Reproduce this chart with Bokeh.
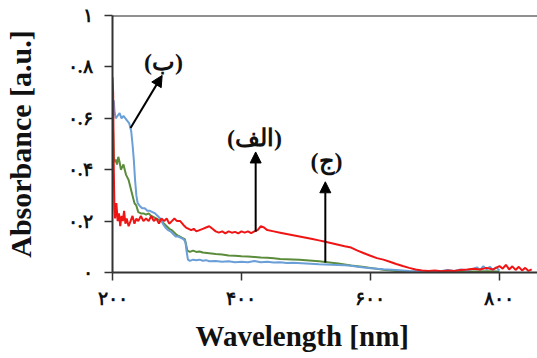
from bokeh.plotting import figure
from bokeh.models import Range1d, FixedTicker, Span, Arrow, NormalHead, Label, Title
from bokeh.embed import file_html
from bokeh.resources import INLINE

# Absorbance spectra of the three samples (wavelength in nm, absorbance in a.u.)
wl_alef = [200, 201, 202, 203, 204, 206, 208, 210, 212, 214, 216, 218, 220, 222, 225,
           228, 231, 234, 237, 240, 244, 248, 252, 256, 260, 264, 268, 272, 276, 280,
           284, 288, 292, 296, 300, 305, 310, 314, 318, 322, 326, 330, 335, 340, 345,
           350, 355, 360, 365, 370, 375, 380, 385, 390, 395, 400, 405, 410, 415, 420,
           425, 430, 435, 440, 450, 460, 470, 480, 490, 500, 510, 520, 530, 540, 550,
           560, 570, 580, 590, 600, 610, 620, 630, 640, 650, 660, 670, 680, 690, 700,
           710, 720, 730, 740, 750, 760, 770, 780, 790, 800, 805, 810, 815, 820, 825,
           830, 835, 840, 845, 850]
abs_alef = [0.76, 0.70, 0.40, 0.25, 0.21, 0.27, 0.20, 0.23, 0.18, 0.22, 0.20, 0.24, 0.19, 0.21, 0.18,
            0.20, 0.22, 0.19, 0.21, 0.20, 0.22, 0.20, 0.21, 0.20, 0.22, 0.20, 0.21, 0.19, 0.21, 0.20,
            0.21, 0.19, 0.20, 0.21, 0.20, 0.20, 0.185, 0.175, 0.17, 0.165, 0.17, 0.16, 0.165, 0.17, 0.175,
            0.18, 0.17, 0.16, 0.155, 0.16, 0.152, 0.16, 0.155, 0.158, 0.152, 0.16, 0.155, 0.16, 0.153, 0.16,
            0.165, 0.18, 0.175, 0.165, 0.16, 0.155, 0.15, 0.145, 0.14, 0.135, 0.13, 0.125, 0.12, 0.114, 0.108,
            0.102, 0.097, 0.085, 0.075, 0.065, 0.056, 0.05, 0.042, 0.033, 0.025, 0.018, 0.012, 0.008, 0.006, 0.008,
            0.005, 0.008, 0.006, 0.010, 0.012, 0.015, 0.012, 0.018, 0.012, 0.025, 0.015, 0.030, 0.012, 0.024, 0.010,
            0.022, 0.008, 0.018, 0.006, 0.012]

wl_be = [200, 201, 202, 203, 205, 208, 211, 214, 217, 220, 223, 226, 229, 231, 233,
         235, 237, 239, 242, 246, 250, 254, 258, 262, 266, 270, 274, 278, 282, 286,
         290, 294, 298, 302, 306, 310, 313, 315, 317, 320, 325, 330, 335, 340, 345,
         350, 360, 370, 380, 390, 400, 410, 420, 430, 440, 450, 460, 470, 480, 500,
         520, 540, 560, 570, 580, 600, 620, 640, 660, 680, 700, 710, 720, 730, 740,
         750, 760, 765, 770, 775, 780, 785, 790, 795, 800]
abs_be = [0.60, 0.64, 0.67, 0.63, 0.60, 0.61, 0.62, 0.60, 0.61, 0.60, 0.59, 0.58, 0.55, 0.50, 0.44,
          0.36, 0.30, 0.27, 0.26, 0.25, 0.25, 0.24, 0.24, 0.235, 0.23, 0.22, 0.21, 0.19, 0.175, 0.165,
          0.16, 0.15, 0.14, 0.14, 0.135, 0.13, 0.12, 0.08, 0.05, 0.045, 0.05, 0.048, 0.05, 0.046, 0.048,
          0.044, 0.045, 0.042, 0.044, 0.040, 0.042, 0.040, 0.045, 0.040, 0.042, 0.039, 0.040, 0.037, 0.038, 0.035,
          0.032, 0.030, 0.028, 0.026, 0.022, 0.017, 0.013, 0.010, 0.006, 0.004, 0.005, 0.006, 0.010, 0.006, 0.012,
          0.008, 0.015, 0.020, 0.010, 0.025, 0.012, 0.022, 0.010, 0.020, 0.008]

wl_jim = [200, 201, 202, 203, 205, 207, 209, 211, 213, 215, 217, 219, 221, 223, 225,
          228, 231, 234, 237, 240, 244, 248, 252, 256, 260, 264, 268, 272, 276, 280,
          284, 288, 292, 296, 300, 304, 308, 312, 314, 316, 320, 325, 330, 335, 340,
          350, 360, 370, 380, 390, 400, 410, 420, 430, 440, 450, 460, 470, 480, 490,
          500, 510, 520, 530, 540, 550, 560, 570, 580, 590, 600, 620, 640, 660, 680,
          700, 720, 740, 760, 780, 800]
abs_jim = [0.58, 0.55, 0.45, 0.43, 0.44, 0.42, 0.45, 0.43, 0.40, 0.41, 0.42, 0.40, 0.38, 0.37, 0.36,
           0.33, 0.30, 0.27, 0.26, 0.235, 0.23, 0.23, 0.225, 0.23, 0.22, 0.215, 0.21, 0.205, 0.20, 0.19,
           0.18, 0.17, 0.165, 0.155, 0.145, 0.14, 0.135, 0.13, 0.11, 0.085, 0.08, 0.085, 0.08, 0.082, 0.078,
           0.075, 0.072, 0.070, 0.066, 0.065, 0.063, 0.062, 0.060, 0.058, 0.057, 0.055, 0.053, 0.052, 0.051, 0.050,
           0.048, 0.046, 0.044, 0.041, 0.038, 0.035, 0.031, 0.027, 0.024, 0.021, 0.018, 0.011, 0.006, 0.004, 0.003,
           0.004, 0.004, 0.005, 0.004, 0.005, 0.004]

# Axis ticks with Persian numerals
x_ticks = [200, 400, 600, 800]
x_tick_labels = ["۲۰۰", "۴۰۰", "۶۰۰", "۸۰۰"]
y_ticks = [0, 0.2, 0.4, 0.6, 0.8, 1]
y_tick_labels = ["۰", "۰.۲", "۰.۴", "۰.۶", "۰.۸", "۱"]

# Sample labels and the arrows pointing at their curves
annot_text = ["(الف)", "(ب)", "(ج)"]
annot_pos = [(420, 0.523), (279, 0.818), (532, 0.434)]
arrow_from = [(422, 0.159), (228, 0.562), (530, 0.039)]
arrow_to = [(422, 0.469), (277, 0.767), (530, 0.353)]

serif = "Liberation Serif"

p = figure(width=537, height=358, output_backend="svg", toolbar_location=None,
           x_range=Range1d(200, 859), y_range=Range1d(0, 1),
           min_border_left=112, min_border_right=0, min_border_top=15, min_border_bottom=85)
p.outline_line_color = None
p.xgrid.visible = False
p.ygrid.visible = False
p.background_fill_color = "white"
p.border_fill_color = "white"

p.line(wl_jim, abs_jim, line_color="#5b8c3c", line_width=2)
p.line(wl_be, abs_be, line_color="#6a9fd8", line_width=2)
p.line(wl_alef, abs_alef, line_color="#f01414", line_width=2)

# top border of the plot frame
p.add_layout(Span(location=1, dimension="width", line_color="#222222", line_width=2))

for ax in (p.xaxis[0], p.yaxis[0]):
    ax.axis_line_color = "#333333"
    ax.axis_line_width = 2
    ax.major_tick_line_color = "#333333"
    ax.major_tick_line_width = 1.5
    ax.major_tick_in = 0
    ax.major_tick_out = 8
    ax.minor_tick_line_color = None
    ax.major_label_text_font = serif
    ax.major_label_text_font_style = "bold"
    ax.major_label_text_font_size = "19px"
    ax.major_label_text_color = "#111111"
    ax.axis_label_text_font = serif
    ax.axis_label_text_font_style = "bold"
    ax.axis_label_text_color = "#111111"

p.xaxis.ticker = FixedTicker(ticks=x_ticks)
p.xaxis.major_label_overrides = dict(zip(x_ticks, x_tick_labels))
p.xaxis.major_label_standoff = 7

p.yaxis.ticker = FixedTicker(ticks=y_ticks)
p.yaxis.major_label_overrides = dict(zip(y_ticks, y_tick_labels))
p.yaxis.axis_label = "Absorbance [a.u.]"
p.yaxis.axis_label_text_font_size = "30px"
p.yaxis.major_label_standoff = 12
p.yaxis.axis_label_standoff = 28

# x-axis title, placed below the tick labels
p.add_layout(Title(text="Wavelength [nm]", align="left", offset=83, standoff=13,
                   text_font=serif, text_font_style="bold", text_font_size="29px",
                   text_color="#111111"), "below")

for txt, (lx, ly), (x0, y0), (x1, y1) in zip(annot_text, annot_pos, arrow_from, arrow_to):
    p.add_layout(Arrow(end=NormalHead(size=11, fill_color="black", line_color="black"),
                       x_start=x0, y_start=y0, x_end=x1, y_end=y1,
                       line_color="black", line_width=2))
    p.add_layout(Label(x=lx, y=ly, text=txt, text_align="center", text_baseline="middle",
                       text_font=serif, text_font_style="bold", text_font_size="24px",
                       text_color="#111111"))

open("out.html", "w").write(file_html(p, INLINE))
